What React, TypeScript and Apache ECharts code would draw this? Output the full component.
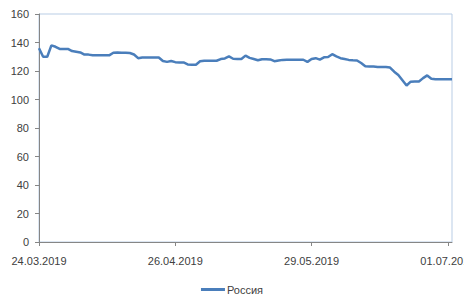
import React, { useEffect, useRef } from "react";
import * as echarts from "echarts";

const startDate = [2019, 2, 24]; // 24.03.2019
const dayCount = 101;

const russia = [
  136, 130, 130, 138, 137, 135.5, 135.5, 135.5, 134, 133.5,
  133, 131.5, 131.5, 131, 131, 131, 131, 131, 132.8, 133,
  132.8, 132.8, 132.6, 131.6, 129, 129.5, 129.5, 129.5, 129.5, 129.5,
  127, 126.4, 127, 126.2, 126, 126, 124.6, 124.4, 124.4, 126.8,
  127.2, 127.2, 127.2, 127.2, 128.4, 128.8, 130.2, 128.6, 128.4, 128.4,
  130.8, 129.2, 128.4, 127.5, 128.3, 128.3, 128.1, 126.9, 127.4, 127.8,
  127.9, 127.9, 127.9, 127.9, 127.9, 126.4, 128.4, 129, 128, 129.6,
  129.8, 131.8, 130.2, 129, 128.4, 127.8, 127.5, 127.4, 125.6, 123.4,
  123.2, 123.2, 122.8, 122.8, 122.8, 122.4, 119.5, 117.2, 113.5, 109.8,
  112.5, 112.6, 112.6, 115, 116.9, 114.6, 114.2, 114.2, 114.2, 114.2,
  114.2,
];

const seriesName = "Россия";

function buildDates(): string[] {
  const out: string[] = [];
  for (let i = 0; i < dayCount; i++) {
    const d = new Date(startDate[0], startDate[1], startDate[2] + i);
    const dd = String(d.getDate()).padStart(2, "0");
    const mm = String(d.getMonth() + 1).padStart(2, "0");
    out.push(`${dd}.${mm}.${d.getFullYear()}`);
  }
  return out;
}

export default function App() {
  const ref = useRef<HTMLDivElement>(null);
  useEffect(() => {
    document.body.style.margin = "0";
    if (!ref.current) return;
    const chart = echarts.init(ref.current, null, { renderer: "svg" });
    const font = "'Liberation Sans', Arial, sans-serif";
    chart.setOption({
      animation: false,
      backgroundColor: "#ffffff",
      textStyle: { fontFamily: font },
      grid: {
        left: 39,
        right: 12,
        top: 14,
        bottom: 54,
        containLabel: false,
        outerBoundsMode: "none",
        show: true,
        borderColor: "#b9cde5",
        borderWidth: 1,
      },
      legend: {
        show: true,
        top: 284,
        left: "center",
        padding: 0,
        icon: "rect",
        itemWidth: 24,
        itemHeight: 3,
        textStyle: { color: "#404040", fontSize: 11, fontFamily: font, padding: [0, 0, 0, -3] },
        data: [seriesName],
      },
      xAxis: {
        type: "category",
        boundaryGap: false,
        data: buildDates(),
        axisLine: { lineStyle: { color: "#868686", width: 1 } },
        axisTick: { show: true, interval: 32, length: 4, lineStyle: { color: "#868686" } },
        axisLabel: { interval: 32, color: "#404040", fontSize: 11, margin: 13, fontFamily: font },
        splitLine: { show: false },
      },
      yAxis: {
        type: "value",
        min: 0,
        max: 160,
        interval: 20,
        axisLine: { show: true, lineStyle: { color: "#868686", width: 1 } },
        axisTick: { show: true, length: 4, lineStyle: { color: "#868686" } },
        axisLabel: { color: "#404040", fontSize: 11, margin: 10, fontFamily: font },
        splitLine: { show: false },
      },
      series: [
        {
          name: seriesName,
          type: "line",
          data: russia,
          symbol: "none",
          lineStyle: { color: "#4a7ebb", width: 2.5 },
          itemStyle: { color: "#4a7ebb" },
        },
      ],
    });
    return () => chart.dispose();
  }, []);
  return <div ref={ref} style={{ width: 464, height: 296 }} />;
}
